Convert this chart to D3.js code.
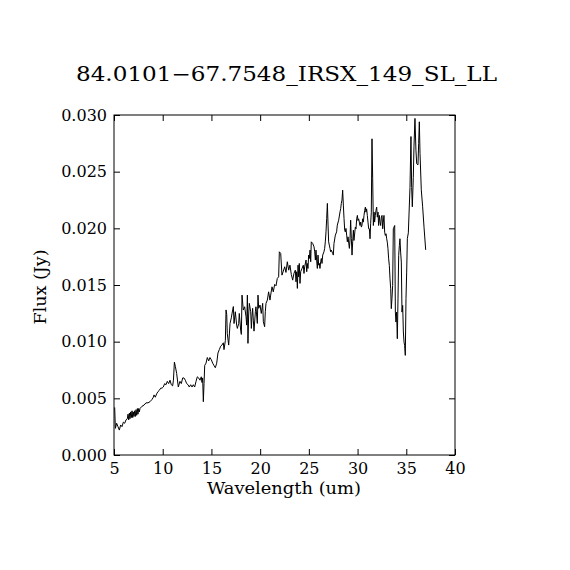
<!DOCTYPE html>
<html>
<head>
<meta charset="utf-8">
<script src="https://cdn.jsdelivr.net/npm/d3@7"></script>
<style>
  body { margin: 0; background: #fff; }
  text { font-family: "DejaVu Serif", serif; fill: #000; }
  .axis path { display: none; }
  .axis line { stroke: #000; stroke-width: 1; }
</style>
</head>
<body>
<svg width="570" height="570"></svg>
<script>
var titleText = "84.0101\u221267.7548_IRSX_149_SL_LL",
    xLabel = "Wavelength (um)",
    yLabel = "Flux (Jy)";

var xTicks = [5, 10, 15, 20, 25, 30, 35, 40],
    yTicks = [0, 0.005, 0.010, 0.015, 0.020, 0.025, 0.030];

// wavelength (um)
var wave = [5.07, 5.14, 5.27, 5.41, 5.55, 5.68, 5.82, 5.96, 6.10, 6.23,
  6.37, 6.44, 6.51, 6.58, 6.64, 6.71, 6.78, 6.85, 6.92, 6.98, 7.05, 7.12, 7.19, 7.26, 7.33, 7.40, 7.46, 7.53, 7.60,
  7.67, 7.87, 8.08, 8.28, 8.49, 8.69, 8.90, 9.04, 9.11, 9.24,
  9.38, 9.52, 9.65, 9.79, 9.93, 10.06, 10.20, 10.34, 10.47, 10.61, 10.75, 10.88, 11.02, 11.10, 11.20,
  11.30, 11.43, 11.60, 11.77, 11.91, 12.05, 12.18, 12.32, 12.46, 12.60, 12.73, 12.87, 13.01, 13.14, 13.28,
  13.42, 13.55, 13.69, 13.83, 13.96, 14.03, 14.10, 14.17, 14.24, 14.31, 14.44, 14.58, 14.72, 14.85, 14.99,
  15.13, 15.26, 15.40, 15.54, 15.67, 15.81, 15.95, 16.08, 16.22, 16.29, 16.43, 16.50, 16.57, 16.63, 16.77,
  16.91, 17.04, 17.18, 17.25, 17.32, 17.45, 17.59, 17.66, 17.80, 17.86, 18.00, 18.07, 18.14, 18.27, 18.41,
  18.55, 18.62, 18.69, 18.75, 18.82, 18.89, 19.03, 19.10, 19.16, 19.23, 19.30, 19.37, 19.51, 19.57, 19.71,
  19.78, 19.85, 19.99, 20.12, 20.26, 20.33, 20.46, 20.53, 20.60, 20.74, 20.87, 21.01, 21.08, 21.22, 21.35,
  21.49, 21.63, 21.76, 21.90, 21.97, 22.11, 22.24, 22.38, 22.52, 22.65, 22.79, 22.93, 23.06, 23.20, 23.34,
  23.47, 23.61, 23.68, 23.75, 23.82, 23.89, 23.95, 24.02, 24.09, 24.16, 24.30, 24.43, 24.50, 24.57, 24.71,
  24.78, 24.84, 24.91, 24.98, 25.05, 25.12, 25.19, 25.25, 25.39, 25.53, 25.60, 25.67, 25.73, 25.80, 25.87,
  25.94, 26.01, 26.08, 26.14, 26.21, 26.28, 26.35, 26.42, 26.55, 26.62, 26.69, 26.76, 26.83, 26.90, 26.97,
  27.03, 27.10, 27.17, 27.24, 27.31, 27.44, 27.51, 27.58, 27.72, 27.85, 27.92, 28.06, 28.20, 28.27, 28.33,
  28.40, 28.47, 28.54, 28.61, 28.68, 28.74, 28.81, 28.88, 28.95, 29.02, 29.16, 29.22, 29.29, 29.36, 29.43,
  29.50, 29.57, 29.63, 29.77, 29.84, 29.91, 29.98, 30.04, 30.11, 30.18, 30.25, 30.32, 30.39, 30.45, 30.52,
  30.59, 30.66, 30.73, 30.80, 30.86, 30.93, 31.00, 31.07, 31.14, 31.21, 31.28, 31.34, 31.41, 31.48, 31.55,
  31.62, 31.69, 31.75, 31.82, 31.89, 31.96, 32.03, 32.10, 32.16, 32.23, 32.30, 32.37, 32.44, 32.51, 32.58,
  32.64, 32.71, 32.78, 32.85, 32.92, 32.99, 33.05, 33.12, 33.19, 33.26, 33.33, 33.40, 33.46, 33.53, 33.60,
  33.67, 33.74, 33.81, 33.88, 33.94, 34.01, 34.08, 34.15, 34.22, 34.29, 34.35, 34.42, 34.49, 34.56, 34.63,
  34.70, 34.77, 34.83, 34.90, 34.97, 35.04, 35.11, 35.21, 35.38, 35.48, 35.55, 35.62, 35.72, 35.79, 35.89,
  35.99, 36.07, 36.20, 36.27, 36.34, 36.41, 36.54, 36.68, 36.82, 36.99];

// flux (Jy)
var flux = [0.00420, 0.00235, 0.0028, 0.0025, 0.0022, 0.00265, 0.0025, 0.0029, 0.0028, 0.0031,
  0.0032, 0.0036, 0.0031, 0.0037, 0.0032, 0.0038, 0.0033, 0.0039, 0.0033, 0.0038, 0.0034, 0.0039, 0.0034, 0.0040, 0.0035, 0.0041, 0.0036, 0.0041, 0.0038,
  0.0041, 0.0043, 0.0044, 0.0046, 0.0046, 0.0047, 0.0049, 0.0051, 0.0053, 0.0051,
  0.0054, 0.0056, 0.0057, 0.0059, 0.0059, 0.0060, 0.0063, 0.0062, 0.0065, 0.0063, 0.0066, 0.0062, 0.0061, 0.0066, 0.0082,
  0.0078, 0.0072, 0.0060, 0.0065, 0.0063, 0.0068, 0.0068, 0.0066, 0.0063, 0.0062, 0.0060, 0.0062, 0.0060, 0.0062, 0.0060,
  0.0065, 0.0069, 0.0068, 0.0066, 0.0069, 0.0064, 0.0068, 0.0047, 0.0063, 0.0079, 0.0081, 0.0086, 0.0083, 0.0086, 0.0084,
  0.0081, 0.0079, 0.0077, 0.0081, 0.0090, 0.0093, 0.0096, 0.0097, 0.0099, 0.0093, 0.0101, 0.0128, 0.0124, 0.0107, 0.0097,
  0.0116, 0.0121, 0.0128, 0.0131, 0.0116, 0.01264, 0.01146, 0.01117, 0.01161, 0.01249, 0.01102, 0.01064, 0.01411, 0.01279, 0.01308,
  0.01220, 0.01146, 0.01411, 0.00985, 0.01235, 0.01338, 0.01264, 0.01117, 0.01220, 0.01294, 0.01190, 0.01093, 0.01264, 0.01308, 0.01161,
  0.01411, 0.01294, 0.01323, 0.01249, 0.01338, 0.01176, 0.01132, 0.01264, 0.01338, 0.01367, 0.01440, 0.01367, 0.01411, 0.01484, 0.01440,
  0.01505, 0.01493, 0.01558, 0.01572, 0.01793, 0.01779, 0.01587, 0.01623, 0.01661, 0.01611, 0.01705, 0.01631, 0.01675, 0.01593, 0.01543,
  0.01602, 0.01631, 0.01528, 0.01617, 0.01470, 0.01675, 0.01572, 0.01690, 0.01514, 0.01617, 0.01646, 0.01675, 0.01602, 0.01661, 0.01720,
  0.01617, 0.01690, 0.01646, 0.01764, 0.01734, 0.01808, 0.01705, 0.01881, 0.01867, 0.01837, 0.01793, 0.01720, 0.01808, 0.01720, 0.01646,
  0.01764, 0.01675, 0.01690, 0.01646, 0.01705, 0.01734, 0.01690, 0.01764, 0.01793, 0.01823, 0.01881, 0.01969, 0.02087, 0.02220, 0.02028,
  0.01881, 0.01852, 0.01823, 0.01793, 0.01808, 0.01779, 0.01764, 0.01867, 0.01940, 0.01969, 0.02028, 0.02072, 0.02146, 0.02175, 0.02220,
  0.02249, 0.02337, 0.02205, 0.02087, 0.01984, 0.01969, 0.01999, 0.01940, 0.01881, 0.01925, 0.01823, 0.01896, 0.02072, 0.01911, 0.01764,
  0.01881, 0.01984, 0.01893, 0.02011, 0.01996, 0.02084, 0.02114, 0.02069, 0.02084, 0.02055, 0.02025, 0.02055, 0.02011, 0.02025, 0.02084,
  0.02055, 0.02114, 0.02158, 0.02187, 0.02143, 0.02172, 0.02114, 0.02055, 0.01996, 0.01996, 0.01908, 0.02040, 0.02143, 0.02790, 0.02437,
  0.02025, 0.02143, 0.02055, 0.02114, 0.02158, 0.02187, 0.02099, 0.02143, 0.02025, 0.02114, 0.02055, 0.02025, 0.02099, 0.02114, 0.01996,
  0.02055, 0.02114, 0.01966, 0.01937, 0.01952, 0.01908, 0.01878, 0.01820, 0.01731, 0.01672, 0.01555, 0.01467, 0.01291, 0.01379, 0.01496,
  0.01996, 0.02011, 0.02025, 0.01261, 0.01173, 0.01261, 0.01026, 0.01379, 0.01761, 0.01849, 0.01908, 0.01790, 0.01702, 0.01261, 0.01320,
  0.01085, 0.00996, 0.00967, 0.00879, 0.01379, 0.01614, 0.0191, 0.0196, 0.0236, 0.0281, 0.0236, 0.0219, 0.0245, 0.0272, 0.0297,
  0.0269, 0.0257, 0.0256, 0.0275, 0.0294, 0.0266, 0.0234, 0.0219, 0.0201, 0.0181];

var svg = d3.select("svg"),
    margin = {top: 115, right: 115, bottom: 115, left: 114},
    width = +svg.attr("width") - margin.left - margin.right,
    height = +svg.attr("height") - margin.top - margin.bottom,
    g = svg.append("g").attr("transform", "translate(" + margin.left + "," + margin.top + ")");

svg.insert("rect", ":first-child").attr("width", 570).attr("height", 570).attr("fill", "#fff");

var x = d3.scaleLinear().domain([5, 40]).range([0, width]);
var y = d3.scaleLinear().domain([0, 0.030]).range([height, 0]);

var data = wave.map(function(w, i) { return {w: w, f: flux[i]}; });

var line = d3.line()
    .x(function(d) { return x(d.w); })
    .y(function(d) { return y(d.f); });

g.append("path")
    .datum(data)
    .attr("fill", "none")
    .attr("stroke", "#000")
    .attr("stroke-width", 1)
    .attr("d", line);

// axes, ticks pointing inward on all four sides
g.append("g")
    .attr("class", "axis axis--x")
    .attr("transform", "translate(0," + height + ")")
    .call(d3.axisBottom(x).tickValues(xTicks).tickSizeInner(-6).tickSizeOuter(0).tickPadding(8)
      .tickFormat(d3.format("d")))
    .selectAll("text").style("font-size", "16px").style("font-family", "DejaVu Serif");

g.append("g")
    .attr("class", "axis axis--y")
    .call(d3.axisLeft(y).tickValues(yTicks).tickSizeInner(-6).tickSizeOuter(0).tickPadding(7)
      .tickFormat(d3.format(".3f")))
    .selectAll("text").style("font-size", "16px").style("font-family", "DejaVu Serif");

g.append("g")
    .attr("class", "axis")
    .call(d3.axisTop(x).tickValues(xTicks).tickSizeInner(-6).tickSizeOuter(0).tickFormat(""));

g.append("g")
    .attr("class", "axis")
    .attr("transform", "translate(" + width + ",0)")
    .call(d3.axisRight(y).tickValues(yTicks).tickSizeInner(-6).tickSizeOuter(0).tickFormat(""));

g.append("rect")
    .attr("width", width)
    .attr("height", height)
    .attr("fill", "none")
    .attr("stroke", "#000")
    .attr("stroke-width", 1);

svg.append("text")
    .attr("x", 76)
    .attr("y", 81)
    .attr("textLength", 421)
    .attr("lengthAdjust", "spacingAndGlyphs")
    .style("font-size", "20px")
    .text(titleText);

svg.append("text")
    .attr("x", 284)
    .attr("y", 494)
    .attr("text-anchor", "middle")
    .attr("textLength", 154)
    .attr("lengthAdjust", "spacingAndGlyphs")
    .style("font-size", "17px")
    .text(xLabel);

svg.append("text")
    .attr("transform", "translate(46,287) rotate(-90)")
    .attr("text-anchor", "middle")
    .attr("textLength", 75)
    .attr("lengthAdjust", "spacingAndGlyphs")
    .style("font-size", "17px")
    .text(yLabel);
</script>
</body>
</html>
